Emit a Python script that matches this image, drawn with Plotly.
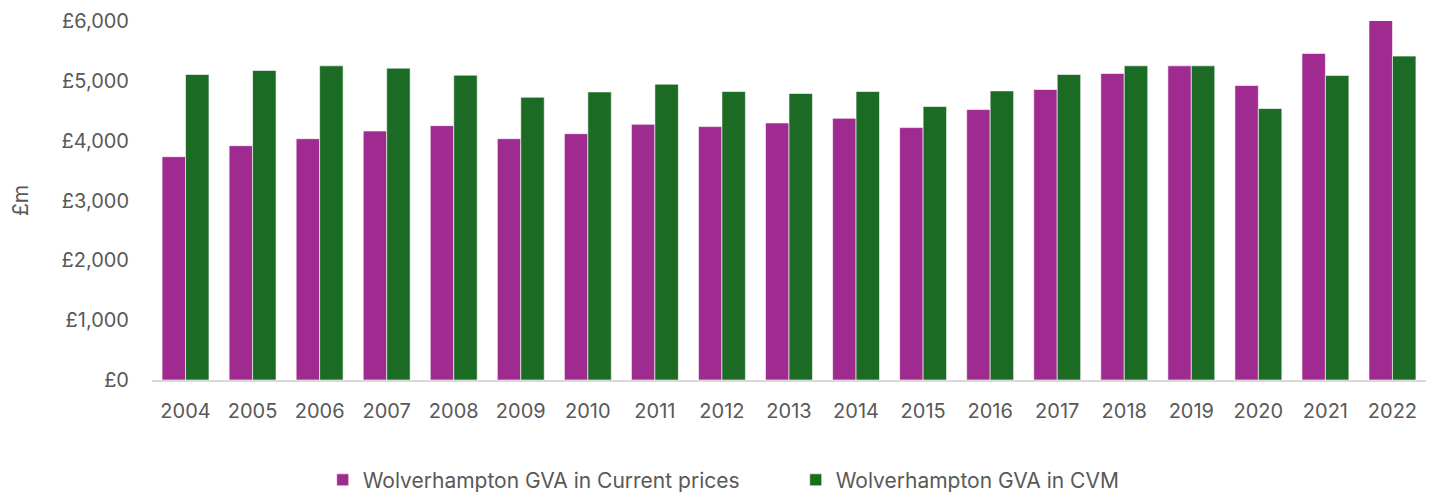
"""Wolverhampton GVA: current prices vs chained volume measures."""

import plotly.graph_objects as go

YEARS = [str(y) for y in range(2004, 2023)]

CURRENT_PRICES = [
    3732, 3916, 4033, 4162, 4251, 4033, 4117, 4273, 4235, 4296,
    4374, 4218, 4520, 4855, 5123, 5251, 4922, 5458, 6016,
]

CVM = [
    5106, 5173, 5251, 5212, 5095, 4726, 4815, 4944, 4821, 4788,
    4821, 4570, 4832, 5106, 5251, 5251, 4537, 5090, 5413,
]

Y_TICKS = [0, 1000, 2000, 3000, 4000, 5000, 6000]
Y_TICK_LABELS = ["£0", "£1,000", "£2,000", "£3,000", "£4,000", "£5,000", "£6,000"]

PURPLE = "#A02B90"
GREEN = "#1B6B24"
TEXT = "#595959"
FONT = "Inter, Roboto, sans-serif"

fig = go.Figure()
fig.add_trace(go.Bar(
    x=YEARS, y=CURRENT_PRICES, name="Wolverhampton GVA in Current prices",
    marker=dict(color=PURPLE, line=dict(color="rgba(255,255,255,0.6)", width=1)),
))
fig.add_trace(go.Bar(
    x=YEARS, y=CVM, name="Wolverhampton GVA in CVM",
    marker=dict(color=GREEN, line=dict(color="rgba(255,255,255,0.6)", width=1)),
))

# page body has an 8px margin, so the figure is offset by 8px
fig.update_layout(
    width=1422,
    height=485,
    template="plotly_white",
    barmode="group",
    bargap=0.3,
    bargroupgap=0,
    margin=dict(l=144, r=4, t=13, b=113, autoexpand=False),
    font=dict(family=FONT, size=20, color=TEXT),
    showlegend=True,
    legend=dict(
        orientation="h", x=0.134, xanchor="left", y=-0.279, yanchor="middle",
        font=dict(size=21, color=TEXT), itemwidth=30,
        entrywidth=428, traceorder="normal",
    ),
    xaxis=dict(
        showgrid=False, showline=True, linecolor="#D9D9D9", linewidth=2,
        ticks="", tickfont=dict(size=20, color=TEXT), ticklabelstandoff=12,
    ),
    yaxis=dict(
        range=[0, 6000], tickvals=Y_TICKS, ticktext=Y_TICK_LABELS,
        showgrid=False, zeroline=False, showline=False,
        tickfont=dict(size=20, color=TEXT), ticklabelstandoff=22,
        title=dict(text="£m", font=dict(size=21, color=TEXT), standoff=38),
    ),
)

fig.write_html("out.html")
